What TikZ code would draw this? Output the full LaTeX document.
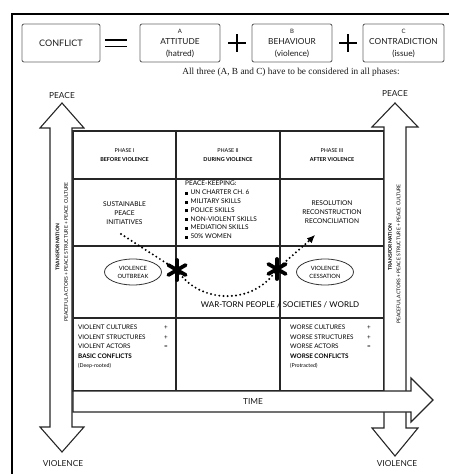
\documentclass[tikz,border=0pt]{standalone}
\usepackage{fontspec}
\setmainfont{Lato}
\newfontfamily\serifface{Liberation Serif}
\usetikzlibrary{shapes.geometric,arrows.meta,calc}
\newcommand{\fs}[2]{\fontsize{#1}{#2}\selectfont}
\newcommand{\blt}{\rule{3pt}{3pt}\hspace{2.5pt}}
\begin{document}
\begin{tikzpicture}[x=1pt,y=-1pt,
  topbox/.style={draw=black!60,line width=0.9pt,rounded corners=2pt,minimum height=38pt,inner sep=1pt,align=center,font=\fs{8.3}{11.5},text=black!90},
  grid/.style={draw=black!85,line width=1.1pt},
  arrowshape/.style={draw=black!85,line width=1.1pt,fill=white,line join=miter},
  cell/.style={align=center,font=\fs{6.6}{9},text=black},
  hdr/.style={align=center,font=\fs{5.4}{9},text=black},
  oval/.style={ellipse,draw=black!80,line width=0.8pt,minimum width=57pt,minimum height=26pt,inner sep=0pt,align=center,font=\fs{5.8}{8},text=black},
  big/.style={font=\fs{8.3}{10},text=black!90},
  vtext/.style={rotate=90,font=\fs{5}{6},text=black},
  star/.style={line width=3.8pt,line cap=round,draw=black}
]
\useasboundingbox (0,0) rectangle (448,474);
% outer frame
\draw[line width=1.6pt] (12,480) -- (12,14) -- (455,14);

% top equation
\node[topbox,minimum width=78pt] (conf) at (61,43) {\fs{9}{11}CONFLICT};
\node[topbox,minimum width=80pt] (boxa) at (180,43) {\fs{6}{7}A\\ ATTITUDE\\ (hatred)};
\node[topbox,minimum width=80pt] (boxb) at (292,43) {\fs{6}{7}B\\ BEHAVIOUR\\ (violence)};
\node[topbox,minimum width=81pt] (boxc) at (403.5,43) {\fs{6}{7}C\\ CONTRADICTION\\ (issue)};
\draw[line width=1.6pt] (105,40) -- (127,40) (105,46.5) -- (127,46.5);
\draw[line width=1.4pt] (228,43) -- (246,43) (237,34) -- (237,52);
\draw[line width=1.4pt] (339,43) -- (357,43) (348,34) -- (348,52);
\node[font=\serifface\fs{9.3}{11},text=black!90] (sub) at (291,72) {All three (A, B and C) have to be considered in all phases:};

% table grid
\draw[grid] (73,131) rectangle (384,391);
\draw[grid] (73,179) -- (384,179) (73,246) -- (384,246) (73,318) -- (384,318);
\draw[grid] (176,131) -- (176,391) (280,131) -- (280,391);

% left vertical double arrow
\draw[arrowshape] (62,103) -- (84,128) -- (72,128) -- (72,427) -- (84,427) -- (62,452) -- (40,427) -- (50,427) -- (50,128) -- (40,128) -- cycle;
% right vertical double arrow
\draw[arrowshape] (395,103) -- (418,127) -- (406,127) -- (406,428) -- (418,428) -- (395,456) -- (372,428) -- (384,428) -- (384,127) -- (372,127) -- cycle;
% time arrow
\draw[arrowshape] (73,391) -- (411,391) -- (411,378) -- (433,400) -- (411,422) -- (411,412) -- (73,412) -- cycle;
\node[big] (time) at (253,402) {TIME};

\node[big] (peaceL) at (62,96) {PEACE};
\node[big] (peaceR) at (395,94) {PEACE};
\node[big] (violL) at (63,464) {VIOLENCE};
\node[big] (violR) at (397,464) {VIOLENCE};

\node[vtext,font=\bfseries\fs{5}{6}] (trL) at (57.5,247) {TRANSFORMATION};
\node[vtext] (paL) at (66,252) {PEACEFUL ACTORS + PEACE STRUCTURE + PEACE CULTURE};
\node[vtext,font=\bfseries\fs{5}{6}] (trR) at (390,247) {TRANSFORMATION};
\node[vtext] (paR) at (398.5,254) {PEACEFUL ACTORS + PEACE STRUCTURE + PEACE CULTURE};

% headers
\node[hdr] (h1) at (124.5,155) {PHASE I\\ \textbf{BEFORE VIOLENCE}};
\node[hdr] (h2) at (228,155) {PHASE II\\ \textbf{DURING VIOLENCE}};
\node[hdr] (h3) at (332,155) {PHASE III\\ \textbf{AFTER VIOLENCE}};

% row 2
\node[cell] (sus) at (124.5,213) {SUSTAINABLE\\ PEACE\\ INITIATIVES};
\node[cell,align=left,anchor=north west,inner sep=0pt,font=\fs{6.5}{8.8}] (pk) at (185,181) {PEACE-KEEPING:\\ \blt UN CHARTER CH. 6\\ \blt MILITARY SKILLS\\ \blt POLICE SKILLS\\ \blt NON-VIOLENT SKILLS\\ \blt MEDIATION SKILLS\\ \blt 50\% WOMEN};
\node[cell] (res) at (332,212) {RESOLUTION\\ RECONSTRUCTION\\ RECONCILIATION};

% row 3
\node[oval] (outb) at (133,272) {VIOLENCE\\ OUTBREAK};
\node[oval] (cess) at (325,272) {VIOLENCE\\ CESSATION};
\node[font=\fs{8}{10},text=black] (war) at (280,305) {WAR-TORN PEOPLE / SOCIETIES / WORLD};

\coordinate (s1) at (177,270);
\coordinate (s2) at (277,269);
\coordinate (dstart) at (121,234);
\coordinate (dend) at (310,240);
\coordinate (tip) at (315,235);
\draw[line width=2.2pt,line cap=round,dash pattern=on 0pt off 4.2pt] (dstart) -- (s1) .. controls (200,305) and (255,305) .. (s2) -- (dend);
\draw[-{Latex[length=8pt,width=7pt]},line width=1pt] (dend) -- (tip);
\foreach \c in {s1,s2}{
  \draw[star] ($(\c)+(0,-10)$) -- ($(\c)+(0,10)$);
  \draw[star] ($(\c)+(-8.7,-5)$) -- ($(\c)+(8.7,5)$);
  \draw[star] ($(\c)+(-8.7,5)$) -- ($(\c)+(8.7,-5)$);
}

% row 4
\node[cell,align=left,anchor=north west,inner sep=0pt,font=\fs{6.3}{9.5}] (vc) at (78,325) {\makebox[86pt][l]{VIOLENT CULTURES}+\\ \makebox[86pt][l]{VIOLENT STRUCTURES}+\\ \makebox[86pt][l]{VIOLENT ACTORS}=\\ \textbf{BASIC CONFLICTS}\\ {\fs{5.3}{9.5}(Deep-rooted)}};
\node[cell,align=left,anchor=north west,inner sep=0pt,font=\fs{6.3}{9.5}] (wc) at (290,325) {\makebox[77pt][l]{WORSE CULTURES}+\\ \makebox[77pt][l]{WORSE STRUCTURES}+\\ \makebox[77pt][l]{WORSE ACTORS}=\\ \textbf{WORSE CONFLICTS}\\ {\fs{5.3}{9.5}(Protracted)}};
\end{tikzpicture}
\end{document}
